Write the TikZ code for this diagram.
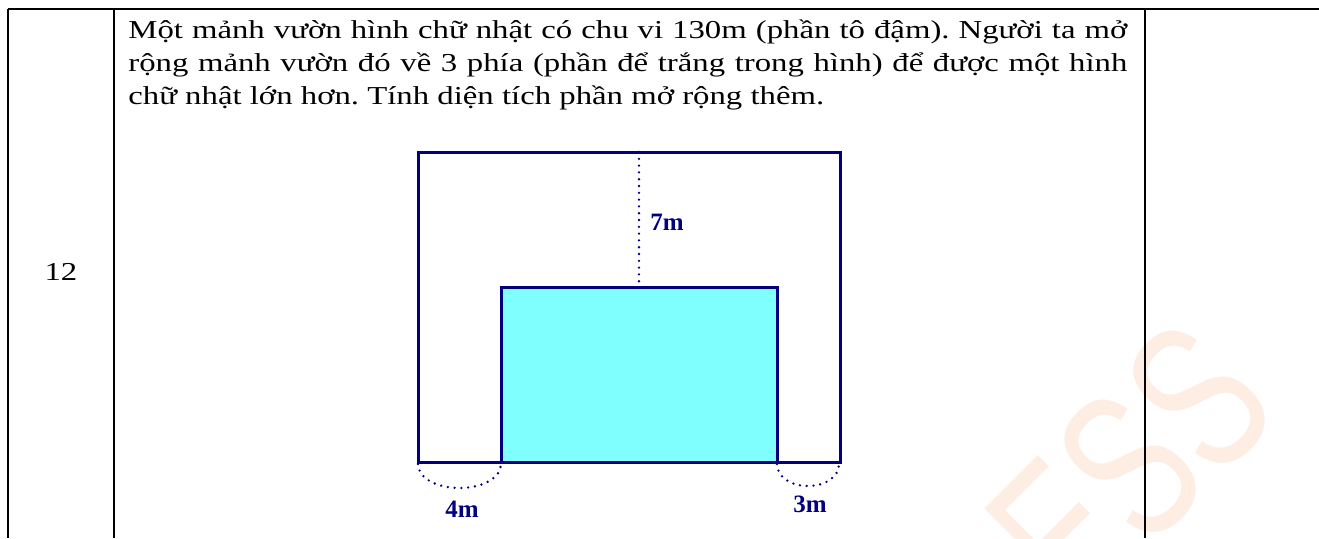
\documentclass[tikz,border=0pt]{standalone}
\usepackage{fontspec}
\setmainfont{Liberation Serif}
\newfontfamily\bodyfont[FakeStretch=1.27]{Liberation Serif}
\newfontfamily\wmfont{Liberation Sans}
\definecolor{navyc}{RGB}{0,0,128}
\definecolor{cyanfill}{RGB}{128,255,255}
\definecolor{wmc}{RGB}{253,237,226}
\frenchspacing
\tikzset{
  tableline/.style={line width=1.3pt, black},
  figline/.style={line width=1.5pt, navyc, line join=miter},
  dotline/.style={line width=1.3pt, navyc, line cap=round, dash pattern=on 0pt off 3.4pt},
  bodytext/.style={inner sep=0pt, anchor=base west, font=\bodyfont\fontsize{12.9}{15}\selectfont},
  lbl/.style={inner sep=0pt, anchor=base west, text=navyc, font=\fontsize{12.5}{14}\selectfont\bfseries}
}
\begin{document}
\begin{tikzpicture}[x=0.5pt,y=-0.5pt]
\useasboundingbox (0,0) rectangle (1319,538);
% watermark
\begin{scope}
\clip (0,0) rectangle (1319,538);
\node[rotate=45, text=wmc, inner sep=0pt, font=\fontsize{105}{105}\wmfont] (wm) at (1130,466) {\scalebox{0.69}[1]{ESS}};
\end{scope}
% table
\coordinate (tl) at (8,9);
\coordinate (tr) at (1319,9);
\coordinate (c1t) at (114,9);
\coordinate (c2t) at (1145,9);
\coordinate (bl) at (8,538);
\coordinate (c1b) at (114,538);
\coordinate (c2b) at (1145,538);
\draw[tableline] (tl) -- (tr);
\draw[tableline] (tl) -- (bl);
\draw[tableline] (c1t) -- (c1b);
\draw[tableline] (c2t) -- (c2b);
% texts
\node[bodytext] (l1) at (128,38) {\makebox[499.5pt][s]{Một mảnh vườn hình chữ nhật có chu vi 130m (phần tô đậm). Người ta mở}};
\node[bodytext] (l2) at (128,71) {\makebox[499.5pt][s]{rộng mảnh vườn đó về 3 phía (phần để trắng trong hình) để được một hình}};
\node[bodytext] (l3) at (128,104) {chữ nhật lớn hơn. Tính diện tích phần mở rộng thêm.};
\node[bodytext, anchor=base] (num) at (61,280) {12};
% figure
\coordinate (A) at (418,152);
\coordinate (B) at (840,462);
\coordinate (C) at (501,287);
\coordinate (D) at (777,462);
\coordinate (T1) at (639,152);
\coordinate (T2) at (639,287);
\draw[figline] (A) rectangle (B);
\draw[figline, fill=cyanfill] (C) rectangle (D);
\draw[dotline] (T1) -- (T2);
\coordinate (L1) at (418,464);
\coordinate (L2) at (501,464);
\coordinate (R1) at (777,464);
\coordinate (R2) at (839,464);
\draw[dotline] (L1) .. controls (418,478) and (436.6,488) .. (459.5,488) .. controls (482.4,488) and (501,478) .. (L2);
\draw[dotline] (R1) .. controls (777,477) and (790.9,486) .. (808,486) .. controls (825.1,486) and (839,477) .. (R2);
\node[lbl] (m7) at (650,230) {7m};
\node[lbl] (m4) at (445,517) {4m};
\node[lbl] (m3) at (793,512) {3m};
\end{tikzpicture}
\end{document}
